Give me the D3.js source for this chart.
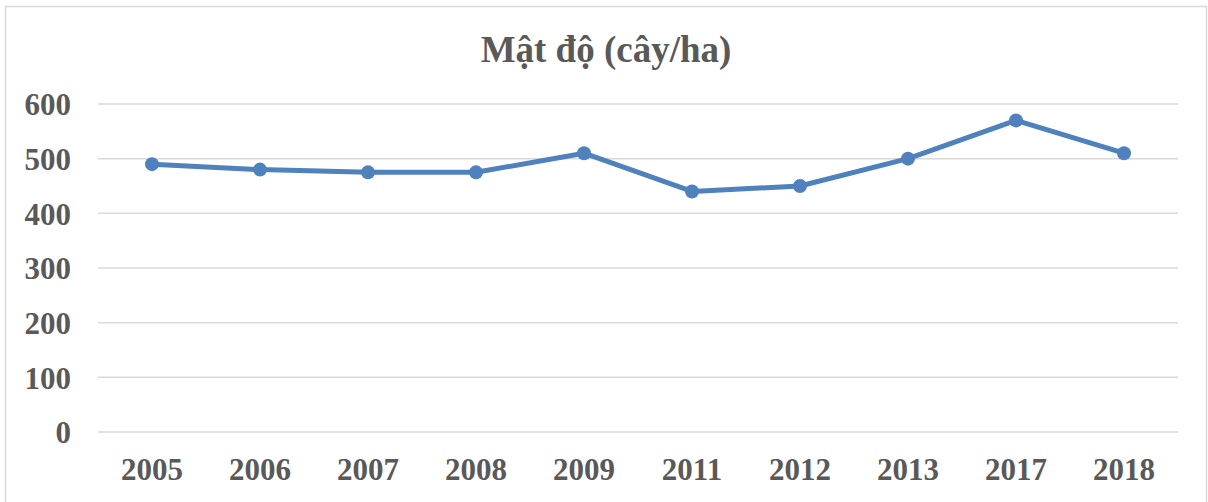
<!DOCTYPE html>
<html>
<head>
<meta charset="utf-8">
<script src="https://cdn.jsdelivr.net/npm/d3@7"></script>
<style>
	body { margin: 0; background: #fff; }
	text { font-family: "Liberation Serif", "Times New Roman", serif; font-weight: bold; fill: #595959; }
</style>
</head>
<body>
<div id="chart"></div>
<script>
var years = ['2005', '2006', '2007', '2008', '2009', '2011', '2012', '2013', '2017', '2018'];
var density = [490, 480, 475, 475, 510, 440, 450, 500, 570, 510];
var yTicks = [0, 100, 200, 300, 400, 500, 600];
var title = 'Mật độ (cây/ha)';

var width = 1208, height = 502;
var plot = { left: 98, right: 1178, top: 104, bottom: 432 };

var svg = d3.select('#chart')
	.append('svg')
	.attr('width', width)
	.attr('height', height);

// chart frame
svg.append('rect')
	.attr('x', 5.5).attr('y', 6.5)
	.attr('width', 1201).attr('height', 510)
	.attr('fill', 'none')
	.attr('stroke', '#d9d9d9')
	.attr('stroke-width', 1.5);

var x = d3.scaleBand().domain(years).range([plot.left, plot.right]);
var y = d3.scaleLinear().domain([0, 600]).range([plot.bottom, plot.top]);

// gridlines
svg.append('g')
	.selectAll('line')
	.data(yTicks)
	.enter()
	.append('line')
	.attr('x1', plot.left).attr('x2', plot.right)
	.attr('y1', function(d){ return y(d); })
	.attr('y2', function(d){ return y(d); })
	.attr('stroke', '#d9d9d9')
	.attr('stroke-width', 1.5);

// y axis labels
var yAxis = svg.append('g')
	.attr('transform', 'translate(71,0)')
	.call(d3.axisLeft(y).tickValues(yTicks).tickSize(0).tickPadding(0));
yAxis.select('.domain').remove();
yAxis.selectAll('text')
	.attr('fill', '#595959')
	.style('font-size', '31px')
	.attr('dy', '0.35em');

// x axis labels
var xAxis = svg.append('g')
	.attr('transform', 'translate(0,' + plot.bottom + ')')
	.call(d3.axisBottom(x).tickSize(0).tickPadding(26));
xAxis.select('.domain').remove();
xAxis.selectAll('text')
	.attr('fill', '#595959')
	.style('font-size', '31px');

// line
var line = d3.line()
	.x(function(d, i){ return x(years[i]) + x.bandwidth() / 2; })
	.y(function(d){ return y(d); });

svg.append('path')
	.datum(density)
	.attr('d', line)
	.attr('fill', 'none')
	.attr('stroke', '#4f81bd')
	.attr('stroke-width', 5)
	.attr('stroke-linejoin', 'round');

svg.append('g')
	.selectAll('circle')
	.data(density)
	.enter()
	.append('circle')
	.attr('cx', function(d, i){ return x(years[i]) + x.bandwidth() / 2; })
	.attr('cy', function(d){ return y(d); })
	.attr('r', 7)
	.attr('fill', '#4f81bd');

// title
svg.append('text')
	.attr('x', 606)
	.attr('y', 62)
	.attr('text-anchor', 'middle')
	.style('font-size', '37px')
	.text(title);
</script>
</body>
</html>
